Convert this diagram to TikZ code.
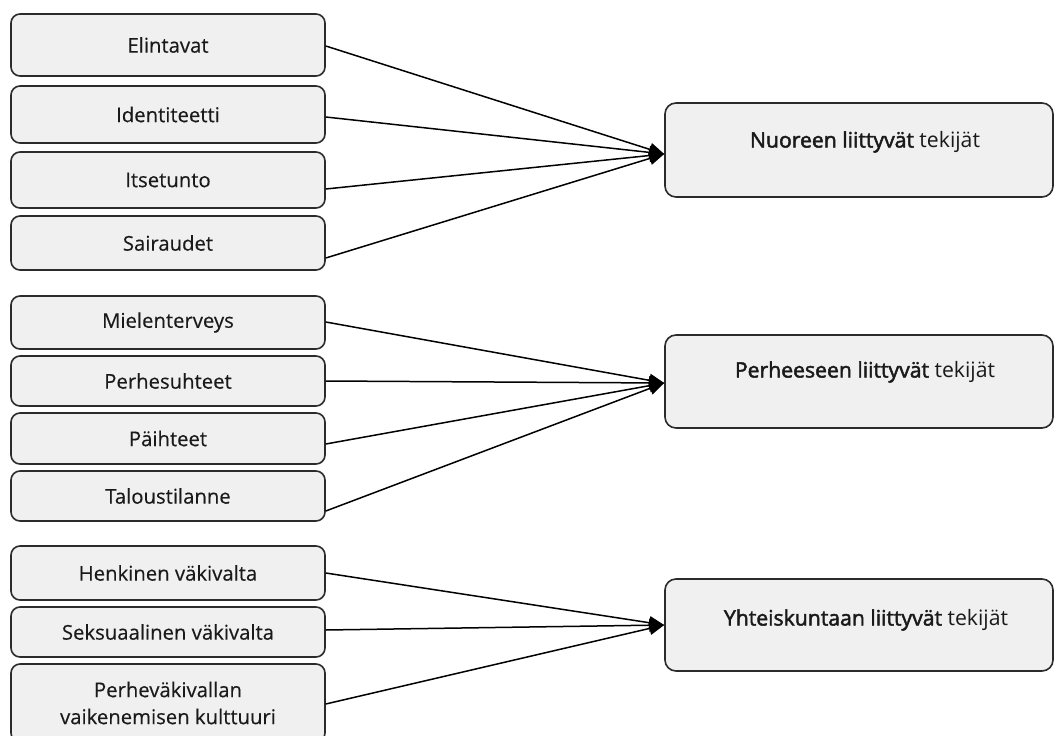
\documentclass[tikz,border=0pt]{standalone}
\usepackage{fontspec}
\setmainfont{Open Sans}
\newfontfamily\semib[FakeBold=2.2]{Open Sans}
\newfontfamily\lighttext[FakeBold=0.3]{Open Sans}
\usetikzlibrary{arrows.meta}
\definecolor{boxfill}{HTML}{F0F0F0}
\definecolor{boxdraw}{HTML}{2B2B2B}
\definecolor{txt}{HTML}{1A1A1A}
\begin{document}
\begin{tikzpicture}[x=1pt,y=-1pt,
  lbox/.style={draw=boxdraw,fill=boxfill,line width=1.6pt,rounded corners=9pt,
    minimum width=314pt,inner sep=0pt,align=center,text=txt,
    font=\lighttext\fontsize{20.3}{28}\selectfont},
  rbox/.style={draw=boxdraw,fill=boxfill,line width=1.6pt,rounded corners=11pt,
    minimum width=388pt,inner sep=0pt},
  rtext/.style={font=\fontsize{21.2}{26}\selectfont,inner sep=0pt,text=txt},
  conn/.style={draw=black,line width=1.5pt,-{Triangle[length=15pt,width=13pt]}}]
\useasboundingbox (0,0) rectangle (1055,736);
% left boxes
\node[lbox,minimum height=62pt] (L1) at (168,45) {Elintavat};
\node[lbox,minimum height=57pt] (L2) at (168,114.5) {Identiteetti};
\node[lbox,minimum height=56pt] (L3) at (168,180) {Itsetunto};
\node[lbox,minimum height=54pt] (L4) at (168,243) {Sairaudet};
\node[lbox,minimum height=53pt] (L5) at (168,322.5) {Mielenterveys};
\node[lbox,minimum height=50pt] (L6) at (168,381) {Perhesuhteet};
\node[lbox,minimum height=51pt] (L7) at (168,438.5) {Päihteet};
\node[lbox,minimum height=50pt] (L8) at (168,496) {Taloustilanne};
\node[lbox,minimum height=54pt] (L9) at (168,573) {Henkinen väkivalta};
\node[lbox,minimum height=50pt] (L10) at (168,632) {Seksuaalinen väkivalta};
\node[lbox,minimum height=78pt] (L11) at (168,703) {Perheväkivallan\\[-1pt]vaikenemisen kulttuuri};
% right boxes
\node[rbox,minimum height=94pt] (R1) at (859,150) {};
\node[rbox,minimum height=93pt] (R2) at (859,381.5) {};
\node[rbox,minimum height=92pt] (R3) at (859,625) {};
\node[rtext] (R1t) at (865,142) {\semib Nuoreen liittyvät\normalfont{} tekijät};
\node[rtext] (R2t) at (865,372) {\semib Perheeseen liittyvät\normalfont{} tekijät};
\node[rtext] (R3t) at (866,620) {\semib Yhteiskuntaan liittyvät\normalfont{} tekijät};
% targets
\coordinate (T1) at ([yshift=-4pt]R1.west);
\coordinate (T2) at ([yshift=-1.5pt]R2.west);
\coordinate (T3) at (R3.west);
% connectors
\draw[conn] ([yshift=-1pt]L1.east) -- (T1);
\draw[conn] ([yshift=-2.5pt]L2.east) -- (T1);
\draw[conn] ([yshift=-9pt]L3.east) -- (T1);
\draw[conn] ([yshift=-15pt]L4.east) -- (T1);
\draw[conn] ([yshift=0.5pt]L5.east) -- (T2);
\draw[conn] (L6.east) -- (T2);
\draw[conn] ([yshift=-5.5pt]L7.east) -- (T2);
\draw[conn] ([yshift=-15pt]L8.east) -- (T2);
\draw[conn] (L9.east) -- (T3);
\draw[conn] ([yshift=2pt]L10.east) -- (T3);
\draw[conn] ([yshift=-1pt]L11.east) -- (T3);
\end{tikzpicture}
\end{document}
